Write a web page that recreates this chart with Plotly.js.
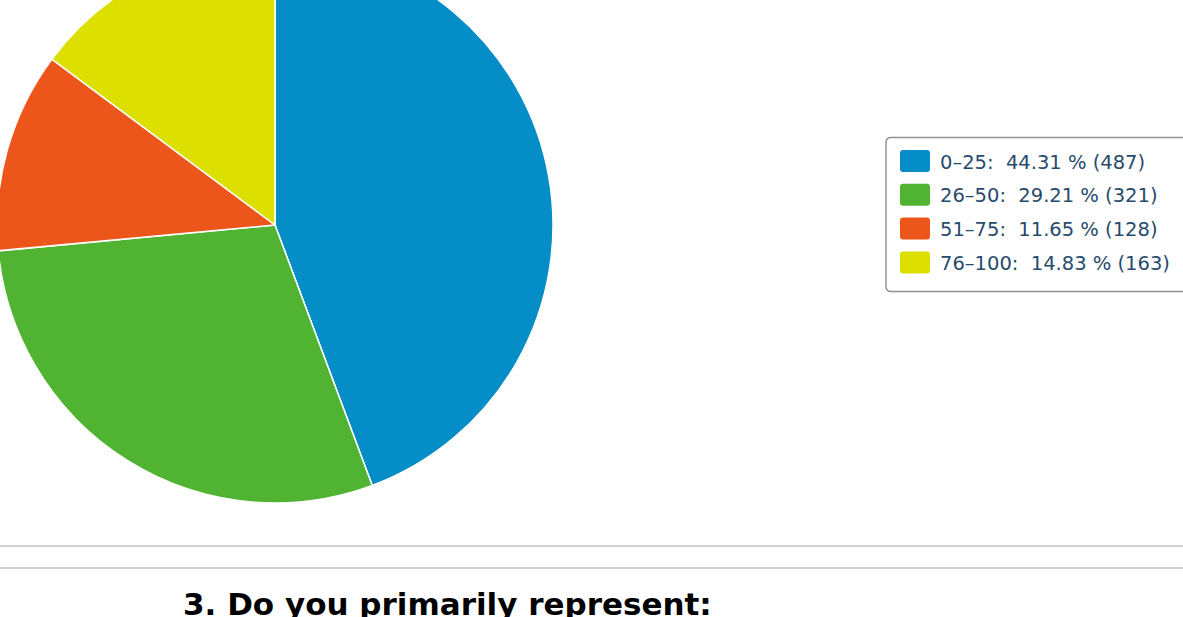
<!DOCTYPE html>
<html>
<head>
<meta charset="utf-8">
<script src="https://cdn.plot.ly/plotly-3.0.1.min.js"></script>
<style>
  html, body { margin: 0; padding: 0; width: 1183px; height: 617px; overflow: hidden; background: #fff; }
  #chart { position: absolute; left: -5px; top: -60px; width: 1188px; height: 700px; }
</style>
</head>
<body>
<div id="chart"></div>
<script>
// Data
const categories = ["0–25", "26–50", "51–75", "76–100"];
const counts = [487, 321, 128, 163];
const percents = ["44.31", "29.21", "11.65", "14.83"];
const colors = ["#058DC7", "#50B432", "#ED561B", "#DDDF00"];
const titleText = "3. Do you primarily represent:";

const legendLabels = categories.map((c, i) => c + ":  " + percents[i] + " % (" + counts[i] + ")");

const W = 1188, H = 700, OX = -5, OY = -60;
// helpers: page pixel -> paper coordinates
const px = x => (x - OX) / W;
const py = y => 1 - (y - OY) / H;

function roundRect(x0, y0, x1, y1, r) {
  const P = (x, y) => px(x) + "," + py(y);
  return "M" + P(x0 + r, y0) + " L" + P(x1 - r, y0) + " Q" + P(x1, y0) + " " + P(x1, y0 + r) +
         " L" + P(x1, y1 - r) + " Q" + P(x1, y1) + " " + P(x1 - r, y1) +
         " L" + P(x0 + r, y1) + " Q" + P(x0, y1) + " " + P(x0, y1 - r) +
         " L" + P(x0, y0 + r) + " Q" + P(x0, y0) + " " + P(x0 + r, y0) + " Z";
}

const cx = 275, cy = 225, r = 278;

const trace = {
  type: "pie",
  labels: categories,
  values: counts,
  sort: false,
  direction: "clockwise",
  rotation: 0,
  textinfo: "none",
  hoverinfo: "label+percent+value",
  showlegend: false,
  marker: { colors: colors, line: { color: "#ffffff", width: 1.5 } },
  domain: { x: [px(cx - r), px(cx + r)], y: [py(cy + r), py(cy - r)] }
};

// legend layout (pixel positions of the reference legend box)
const boxL = 886, boxT = 137.5, boxB = 291.5, rowY0 = 161, rowStep = 33.8;

const shapes = [
  { type: "line", xref: "paper", yref: "paper", x0: 0, x1: 1, y0: py(546), y1: py(546), line: { color: "#d2d2d2", width: 2 } },
  { type: "line", xref: "paper", yref: "paper", x0: 0, x1: 1, y0: py(568), y1: py(568), line: { color: "#d2d2d2", width: 2 } },
  { type: "path", xref: "paper", yref: "paper", path: roundRect(boxL, boxT, 1200, boxB, 5),
    fillcolor: "#ffffff", line: { color: "#929292", width: 1.5 } }
];
const annotations = [
  { text: "<b>" + titleText + "</b>", xref: "paper", yref: "paper", x: px(181), y: py(584), xanchor: "left", yanchor: "top",
    showarrow: false, font: { family: "DejaVu Sans, Verdana, sans-serif", size: 31, color: "#000000" } }
];
legendLabels.forEach((lab, i) => {
  const yc = rowY0 + i * rowStep;
  shapes.push({ type: "path", xref: "paper", yref: "paper", path: roundRect(900, yc - 11, 930, yc + 11, 3),
    fillcolor: colors[i], line: { width: 0 } });
  annotations.push({ text: lab, xref: "paper", yref: "paper", x: px(938), y: py(yc + 1), xanchor: "left", yanchor: "middle",
    showarrow: false, font: { family: "DejaVu Sans, Verdana, sans-serif", size: 19.5, color: "#274b6d" } });
});

const layout = {
  width: W, height: H,
  margin: { l: 0, r: 0, t: 0, b: 0 },
  paper_bgcolor: "#ffffff",
  showlegend: false,
  shapes: shapes,
  annotations: annotations
};

Plotly.newPlot("chart", [trace], layout, { displayModeBar: false, staticPlot: true });
</script>
</body>
</html>
